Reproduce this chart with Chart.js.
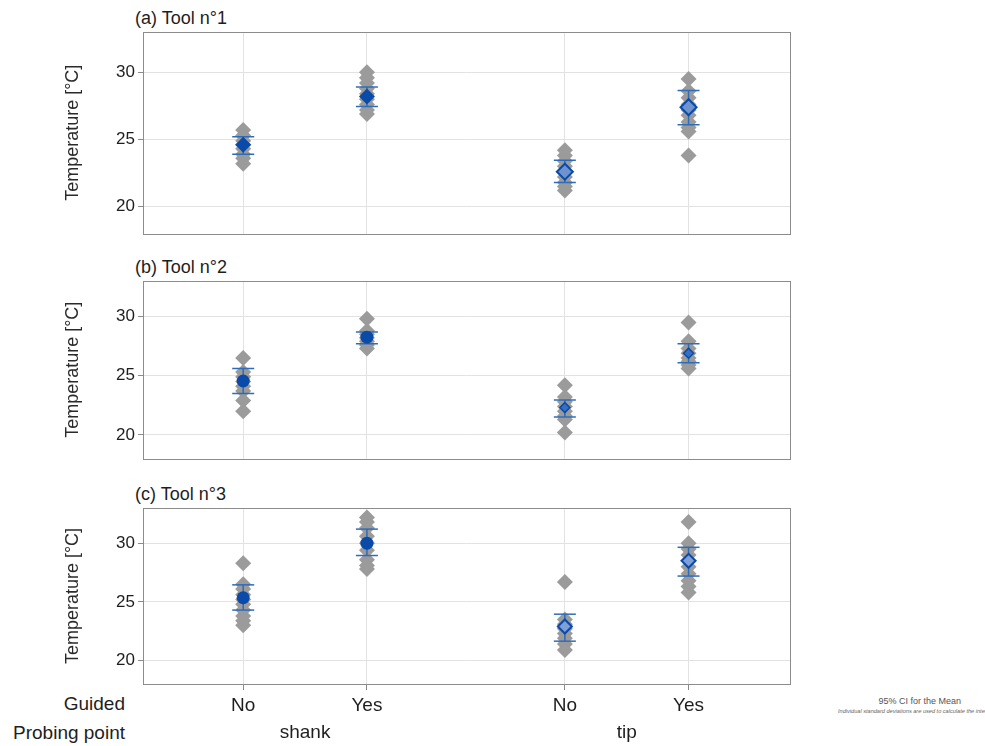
<!DOCTYPE html>
<html><head><meta charset="utf-8">
<script src="https://cdn.jsdelivr.net/npm/chart.js@4.4.1/dist/chart.umd.min.js"></script>
<style>
html,body{margin:0;padding:0;background:#fff;}
body{width:985px;height:746px;overflow:hidden;position:relative;font-family:"Liberation Sans",Arial,sans-serif;}
canvas{position:absolute;left:0;}
.t{position:absolute;color:#1e1e1e;white-space:nowrap;line-height:1;}
</style></head><body>
<div class="t" style="left:135px;top:9px;font-size:18px">(a) Tool n°1</div>
<div class="t" style="left:135px;top:258px;font-size:18px">(b) Tool n°2</div>
<div class="t" style="left:135px;top:485px;font-size:18px">(c) Tool n°3</div>
<div class="t" style="right:860px;top:694px;font-size:19px">Guided</div>
<div class="t" style="right:860px;top:723px;font-size:19px">Probing point</div>
<div class="t" style="right:24px;top:697px;font-size:9px;color:#555">95% CI for the Mean</div>
<div class="t" style="left:838px;top:709px;font-size:5.6px;color:#666;font-style:italic">Individual standard deviations are used to calculate the intervals</div>
<canvas id="c1" width="985" height="246" style="top:0"></canvas>
<canvas id="c2" width="985" height="226" style="top:245px"></canvas>
<canvas id="c3" width="985" height="276" style="top:470px"></canvas>
<script>
// ---- data ----
const guided = ['No', 'Yes', 'No', 'Yes'];
const probing = ['shank', 'shank', 'tip', 'tip'];
const probingGroups = ['shank', 'tip'];
const yTicks = [20, 25, 30];

const tool1Obs = [
  [25.7, 25.3, 24.9, 24.6, 24.3, 23.9, 23.6, 23.2],
  [30.0, 29.6, 29.2, 28.8, 28.4, 28.0, 27.6, 27.2, 26.9],
  [24.2, 23.8, 23.4, 23.0, 22.6, 22.2, 21.8, 21.5, 21.2],
  [29.5, 28.6, 28.1, 27.6, 27.2, 26.8, 26.3, 25.9, 25.6, 23.8]
];
const tool1Mean = [24.6, 28.2, 22.6, 27.4];
const tool1Lo = [23.9, 27.45, 21.8, 26.1];
const tool1Hi = [25.2, 28.9, 23.45, 28.64];

const tool2Obs = [
  [26.5, 25.3, 24.9, 24.5, 24.1, 23.7, 22.9, 22.0],
  [29.8, 28.8, 28.5, 28.2, 27.9, 27.6, 27.3],
  [24.2, 23.2, 22.8, 22.4, 22.0, 21.6, 21.3, 20.2],
  [29.5, 27.9, 27.3, 26.9, 26.5, 26.2, 25.9, 25.6]
];
const tool2Mean = [24.55, 28.25, 22.3, 26.9];
const tool2Lo = [23.5, 27.7, 21.5, 26.1];
const tool2Hi = [25.6, 28.7, 22.95, 27.7];

const tool3Obs = [
  [28.3, 26.5, 26.1, 25.6, 25.2, 24.8, 24.3, 23.8, 23.4, 23.0],
  [32.2, 31.8, 31.3, 30.6, 30.0, 29.4, 28.6, 28.1, 27.8],
  [26.7, 23.5, 23.1, 22.7, 22.3, 21.9, 21.4, 20.9],
  [31.8, 30.0, 29.5, 29.0, 28.5, 28.0, 27.4, 26.8, 26.3, 25.8]
];
const tool3Mean = [25.35, 30.0, 22.9, 28.5];
const tool3Lo = [24.3, 28.95, 21.65, 27.2];
const tool3Hi = [26.45, 31.2, 23.95, 29.65];

// ---- layout helpers (category index -> x value on a linear axis, with a gap between probing groups) ----
const GROUP_GAP = 0.6;
const xOf = i => 1 + i + probingGroups.indexOf(probing[i]) * GROUP_GAP;
const xCats = guided.map((_, i) => xOf(i));
const groupCenters = probingGroups.map(g => {
  const xs = guided.map((_, i) => i).filter(i => probing[i] === g).map(xOf);
  return xs.reduce((a, b) => a + b, 0) / xs.length;
});
const X_MIN = 0.19, X_MAX = 5.42;

const GRID = '#e2e2e2', TICKC = '#8a8a8a', TXT = '#1e1e1e';
const GRAY = '#9b9b9b', CI = '#2f6cb8', MEAN = '#0a4aa8';

const boxPlugin = {
  id: 'box',
  afterDraw(chart) {
    const {ctx, chartArea: a} = chart;
    ctx.save();
    ctx.strokeStyle = '#8c8c8c';
    ctx.lineWidth = 1;
    ctx.strokeRect(Math.round(a.left) + 0.5, Math.round(a.top) + 0.5, Math.round(a.right - a.left), Math.round(a.bottom - a.top));
    ctx.restore();
  }
};

function makeChart(id, obs, mean, lo, hi, cfg) {
  const ptData = [];
  obs.forEach((arr, i) => arr.forEach(v => ptData.push({x: xCats[i], y: v})));
  const lineData = [];
  lo.forEach((v, i) => { lineData.push({x: xCats[i], y: v}, {x: xCats[i], y: hi[i]}, {x: xCats[i], y: null}); });
  const capData = [];
  lo.forEach((v, i) => { capData.push({x: xCats[i], y: v}, {x: xCats[i], y: hi[i]}); });
  const meanData = mean.map((v, i) => ({x: xCats[i], y: v}));

  const scales = {
    y: {
      type: 'linear', min: 18, max: 33,
      afterBuildTicks: s => { s.ticks = yTicks.map(v => ({value: v})); },
      afterFit: s => { s.width = 85; s.paddingTop = 0; s.paddingBottom = 0; },
      ticks: {font: {size: 17, family: '"Liberation Sans", Arial, sans-serif'}, color: TXT, padding: 3},
      grid: {color: GRID, tickColor: TICKC, tickLength: 5, lineWidth: 1},
      border: {display: false},
      title: {display: true, text: 'Temperature [°C]', font: {size: 18, family: '"Liberation Sans", Arial, sans-serif'}, color: '#2a2a2a', padding: {top: 4, bottom: 0}}
    },
    x: {
      type: 'linear', min: X_MIN, max: X_MAX, position: 'bottom',
      afterBuildTicks: s => { s.ticks = xCats.map(v => ({value: v})); },
      afterFit: s => { s.height = cfg.xHeight; s.paddingLeft = 0; s.paddingRight = 0; },
      ticks: cfg.showX ? {
        display: true, autoSkip: false, maxRotation: 0, padding: 4,
        font: {size: 19, family: '"Liberation Sans", Arial, sans-serif'}, color: TXT,
        callback: (v, i) => guided[i]
      } : {display: false},
      grid: {color: GRID, drawTicks: !!cfg.showX, tickColor: TICKC, tickLength: 6},
      border: {display: false}
    }
  };
  if (cfg.showX) {
    scales.x2 = {
      type: 'linear', min: X_MIN, max: X_MAX, position: 'bottom',
      afterBuildTicks: s => { s.ticks = groupCenters.map(v => ({value: v})); },
      afterFit: s => { s.height = 30; s.paddingLeft = 0; s.paddingRight = 0; },
      ticks: {autoSkip: false, maxRotation: 0, padding: 5,
        font: {size: 19, family: '"Liberation Sans", Arial, sans-serif'}, color: TXT,
        callback: (v, i) => probingGroups[i]},
      grid: {display: false, drawTicks: false},
      border: {display: false}
    };
  }

  return new Chart(document.getElementById(id), {
    type: 'scatter',
    data: {
      datasets: [
        {label: 'mean', data: meanData, order: 0, pointStyle: cfg.meanStyle, pointRadius: cfg.meanRadius,
          backgroundColor: cfg.meanFill, borderColor: MEAN, borderWidth: cfg.meanBorder},
        {label: 'caps', data: capData, order: 1, pointStyle: 'line', pointRadius: 11,
          borderColor: CI, borderWidth: 1.5, backgroundColor: CI},
        {label: 'ci', type: 'line', data: lineData, order: 2, spanGaps: false, borderColor: CI,
          borderWidth: 1.5, pointRadius: 0, fill: false},
        {label: 'obs', data: ptData, order: 3, pointStyle: 'rectRot', pointRadius: 8,
          backgroundColor: GRAY, borderColor: GRAY, borderWidth: 0}
      ]
    },
    options: {
      responsive: false, animation: false, devicePixelRatio: 1,
      layout: {padding: {left: 58, right: 195, top: cfg.top, bottom: 0}},
      plugins: {legend: {display: false}, tooltip: {enabled: false}, title: {display: false}},
      scales
    },
    plugins: [boxPlugin]
  });
}

makeChart('c1', tool1Obs, tool1Mean, tool1Lo, tool1Hi,
  {top: 32, xHeight: 12, showX: false, meanStyle: ['rectRot', 'rectRot', 'rectRot', 'rectRot'], meanRadius: 8,
   meanFill: [MEAN, MEAN, '#6f93cf', '#6f93cf'], meanBorder: [0, 0, 2, 2]});
makeChart('c2', tool2Obs, tool2Mean, tool2Lo, tool2Hi,
  {top: 36, xHeight: 12, showX: false, meanStyle: ['circle', 'circle', 'rectRot', 'rectRot'], meanRadius: [6.5, 6.5, 5, 5],
   meanFill: [MEAN, MEAN, '#3a6fc0', '#3a6fc0'], meanBorder: [0, 0, 1.5, 1.5]});
makeChart('c3', tool3Obs, tool3Mean, tool3Lo, tool3Hi,
  {top: 38, xHeight: 32, showX: true, meanStyle: ['circle', 'circle', 'rectRot', 'rectRot'], meanRadius: [6.5, 6.5, 7, 7],
   meanFill: [MEAN, MEAN, '#7f9fd6', '#7f9fd6'], meanBorder: [0, 0, 2, 2]});
</script>
</body></html>
